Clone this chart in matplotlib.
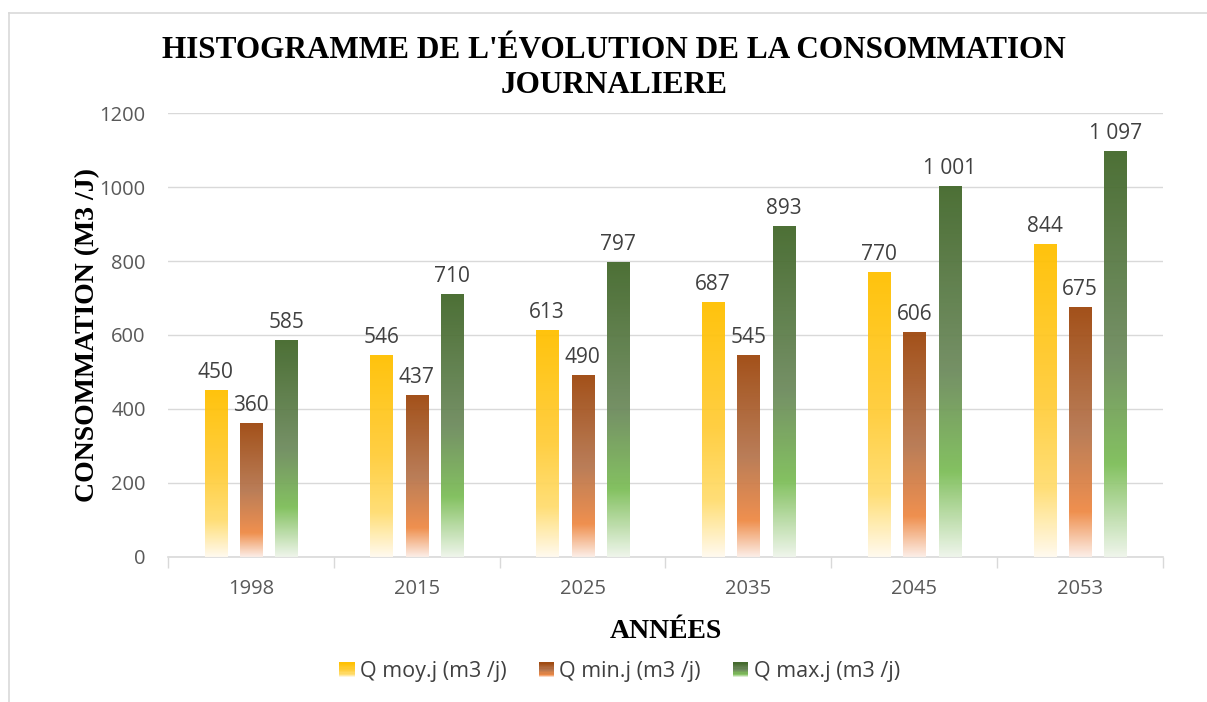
import numpy as np
import matplotlib
matplotlib.use("Agg")
import matplotlib.pyplot as plt
from matplotlib.colors import LinearSegmentedColormap
from matplotlib.patches import Rectangle
from matplotlib.legend_handler import HandlerBase
from matplotlib.lines import Line2D

years = ["1998", "2015", "2025", "2035", "2045", "2053"]
q_moy = [450, 546, 613, 687, 770, 844]
q_min = [360, 437, 490, 545, 606, 675]
q_max = [585, 710, 797, 893, 1001, 1097]
series_names = ["Q moy.j (m3 /j)", "Q min.j (m3 /j)", "Q max.j (m3 /j)"]

# gradient stops: (position from bottom, colour)
grad_moy = [(0.0, "#FFFAEE"), (0.22, "#FFDD70"), (0.5, "#FFCD3A"), (1.0, "#FFC000")]
grad_min = [(0.0, "#FCEDE6"), (0.18, "#EF8A45"), (0.5, "#B6764F"), (1.0, "#9E480E")]
grad_max = [(0.0, "#EEF5EA"), (0.23, "#7DBE58"), (0.5, "#6E8B5E"), (1.0, "#43682B")]

cmaps = [LinearSegmentedColormap.from_list("g%d" % i, g) for i, g in enumerate([grad_moy, grad_min, grad_max])]

fig = plt.figure(figsize=(12.07, 7.02), dpi=100)
ax = fig.add_axes([0.1392, 0.2066, 0.8243, 0.6324])

x = np.arange(len(years))
width = 0.133
offsets = [-0.213, 0.0, 0.213]
grad = np.linspace(0, 1, 256).reshape(-1, 1)

for data, off, cm in zip([q_moy, q_min, q_max], offsets, cmaps):
    bars = ax.bar(x + off, data, width, facecolor="none", edgecolor="none", zorder=3)
    for b, v in zip(bars, data):
        x0 = b.get_x()
        ax.imshow(grad, cmap=cm, origin="lower", aspect="auto",
                  extent=[x0, x0 + width, 0, v], zorder=3, alpha=0.95)
        lab = "{:,}".format(v).replace(",", " ")
        ax.text(x0 + width / 2, v + 20, lab, ha="center", va="bottom",
                fontsize=15, color="#404040", family="Open Sans")

ax.set_xlim(-0.5, len(years) - 0.5)
ax.set_ylim(0, 1200)
ax.set_yticks(range(0, 1201, 200))
ax.grid(axis="y", color="#D9D9D9", linewidth=1, zorder=0)
ax.set_axisbelow(True)

ax.set_xticks(x)
ax.set_xticklabels(years)
ax.set_xticks(np.arange(-0.5, len(years), 1), minor=True)
ax.tick_params(axis="x", which="major", length=0, pad=16, labelsize=14.5, labelcolor="#595959")
ax.tick_params(axis="x", which="minor", length=8, color="#D9D9D9", width=1)
ax.tick_params(axis="y", length=0, pad=16, labelsize=14.5, labelcolor="#595959")
for lbl in ax.get_xticklabels() + ax.get_yticklabels():
    lbl.set_family("Open Sans")

for s in ["top", "right", "left"]:
    ax.spines[s].set_visible(False)
ax.spines["bottom"].set_color("#D9D9D9")
ax.spines["bottom"].set_linewidth(1.2)

fig.text(0.509, 0.903, "HISTOGRAMME DE L'ÉVOLUTION DE LA CONSOMMATION\nJOURNALIERE",
         ha="center", va="center", fontsize=22.5, fontweight="bold",
         family="Liberation Serif", linespacing=1.27)
ax.set_xlabel("ANNÉES", fontsize=20, fontweight="bold", family="Liberation Serif", labelpad=14)
ax.set_ylabel("CONSOMMATION (M3 /J)", fontsize=20, fontweight="bold", family="Liberation Serif", labelpad=0)


class GradHandler(HandlerBase):
    def __init__(self, cmap):
        super().__init__()
        self.cmap = cmap

    def create_artists(self, legend, orig_handle, xdescent, ydescent, width, height, fontsize, trans):
        n = 12
        side = height * 1.0
        x0 = -xdescent + width - side
        arts = []
        for i in range(n):
            r = Rectangle((x0, -ydescent + side * i / n), side, side / n,
                          facecolor=self.cmap((i + 0.5) / n), edgecolor="none", transform=trans)
            arts.append(r)
        return arts


handles = [Line2D([], []) for _ in series_names]
fig.legend(handles, series_names, loc="center", bbox_to_anchor=(0.5124, 0.043), ncol=3,
           frameon=False, handler_map={h: GradHandler(c) for h, c in zip(handles, cmaps)},
           prop={"family": "Open Sans", "size": 15.5}, labelcolor="#404040",
           handlelength=0.8, handletextpad=0.25, columnspacing=1.4)

# chart area border
fig.add_artist(Line2D([9 / 1207, 9 / 1207], [0, 1 - 13 / 702], color="#D9D9D9", lw=1.2, transform=fig.transFigure))
fig.add_artist(Line2D([9 / 1207, 1], [1 - 13 / 702, 1 - 13 / 702], color="#D9D9D9", lw=1.2, transform=fig.transFigure))

fig.savefig("out.png", dpi=100)
